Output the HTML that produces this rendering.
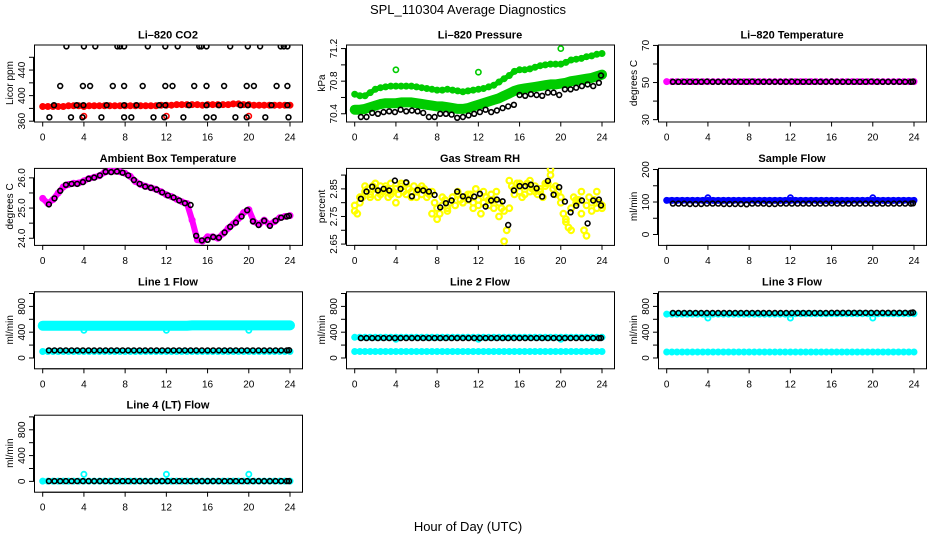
<!DOCTYPE html>
<html><head><meta charset="utf-8">
<style>
html,body{margin:0;padding:0;background:#fff;}
svg{display:block;font-family:"Liberation Sans",Arial,sans-serif;}
</style></head>
<body>
<svg id="chart" width="936" height="540" viewBox="0 0 936 540" xmlns="http://www.w3.org/2000/svg">
<rect x="0" y="0" width="936" height="540" fill="#fff"/>
<text x="468" y="14" text-anchor="middle" font-size="13">SPL_110304  Average Diagnostics</text>
<text x="468" y="531" text-anchor="middle" font-size="13">Hour of Day (UTC)</text>
</svg>
<script>
// ---------- data ----------
const xTicks = [0,4,8,12,16,20,24];
const hrsB = [0.6,1.15,1.7,2.25,2.8,3.35,3.9,4.45,5.0,5.55,6.1,6.65,7.2,7.75,8.3,8.85,9.4,9.95,10.5,11.05,11.6,12.15,12.7,13.25,13.8,14.35,14.9,15.45,16.0,16.55,17.1,17.65,18.2,18.75,19.3,19.85,20.4,20.95,21.5,22.05,22.6,23.15,23.7,23.9];
const hrsC = [0,0.5,1,1.5,2,2.5,3,3.5,4,4.5,5,5.5,6,6.5,7,7.5,8,8.5,9,9.5,10,10.5,11,11.5,12,12.5,13,13.5,14,14.5,15,15.5,16,16.5,17,17.5,18,18.5,19,19.5,20,20.5,21,21.5,22,22.5,23,23.5,24];
const hrsQ = [0,0.25,0.5,0.75,1,1.25,1.5,1.75,2,2.25,2.5,2.75,3,3.25,3.5,3.75,4,4.25,4.5,4.75,5,5.25,5.5,5.75,6,6.25,6.5,6.75,7,7.25,7.5,7.75,8,8.25,8.5,8.75,9,9.25,9.5,9.75,10,10.25,10.5,10.75,11,11.25,11.5,11.75,12,12.25,12.5,12.75,13,13.25,13.5,13.75,14,14.25,14.5,14.75,15,15.25,15.5,15.75,16,16.25,16.5,16.75,17,17.25,17.5,17.75,18,18.25,18.5,18.75,19,19.25,19.5,19.75,20,20.25,20.5,20.75,21,21.25,21.5,21.75,22,22.25,22.5,22.75,23,23.25,23.5,23.75,24];
const spikeHrs = [4,12,20];

// CO2
const co2BlackHrs = [2.3,4.0,5.1,7.25,7.5,7.9,10.2,11.9,13.1,15.2,15.4,15.9,18.2,19.9,21.1,23.1,23.4,23.75, 1.7,3.9,4.6,6.8,7.9,9.7,11.9,12.6,14.7,15.9,17.6,19.8,20.5,22.7,23.75, 1.1,3.3,3.95,6.2,7.9,9.1,11.3,11.9,14.2,15.9,17.1,19.2,19.9,22.2,23.75, 0.65,2.75,3.85,5.7,7.9,8.6,10.75,11.8,13.65,15.9,16.6,18.7,19.8,21.6,23.85];
const co2BlackVals = [477,477,477,477,477,477,477,477,477,477,477,477,477,477,477,477,477,477, 415,415,415,415,415,415,415,415,415,415,415,415,415,415,415, 385,385,385,385,385,385,385,385,385,385,385,385,385,385,385, 366,366,366,366,366,366,366,366,366,366,366,366,366,366,366];
const co2Red = [383,383,383,383,383,384,384,384,383,384,384,384,384,384,384,384,384,384,384,384,384,384,384,385,385,385,386,386,386,386,386,385,386,386,386,386,386,387,387,386,386,385,385,385,385,385,385,385,385];
const co2RedSpikes = [368,368,368];

// Pressure
const presUpper = [70.64,70.62,70.62,70.66,70.70,70.72,70.73,70.74,70.74,70.74,70.74,70.74,70.73,70.72,70.71,70.70,70.69,70.69,70.70,70.69,70.68,70.67,70.68,70.69,70.70,70.71,70.73,70.75,70.79,70.83,70.87,70.92,70.94,70.94,70.95,70.97,70.99,71.00,71.01,71.01,71.01,71.03,71.06,71.07,71.08,71.10,71.11,71.13,71.14];
const presLower = [70.45,70.45,70.46,70.48,70.50,70.52,70.53,70.53,70.53,70.54,70.54,70.54,70.53,70.52,70.51,70.50,70.49,70.49,70.48,70.47,70.46,70.46,70.47,70.49,70.51,70.53,70.55,70.57,70.59,70.62,70.65,70.68,70.70,70.71,70.72,70.73,70.74,70.75,70.76,70.76,70.77,70.78,70.80,70.81,70.82,70.83,70.84,70.86,70.88];
const presGreenSpikes = [70.94,70.91,71.20];
const presBlack = [70.36,70.36,70.41,70.40,70.42,70.43,70.42,70.45,70.43,70.44,70.43,70.41,70.36,70.36,70.40,70.40,70.39,70.35,70.36,70.38,70.40,70.42,70.45,70.42,70.44,70.47,70.49,70.51,70.63,70.62,70.64,70.63,70.62,70.66,70.66,70.63,70.70,70.70,70.72,70.74,70.76,70.74,70.78,70.87];

// Li-820 temperature
const liTempMag = [50.5,50.5,50.5,50.5,50.5,50.5,50.5,50.5,50.5,50.5,50.5,50.5,50.5,50.5,50.5,50.5,50.5,50.5,50.5,50.5,50.5,50.5,50.5,50.5,50.5,50.5,50.5,50.5,50.5,50.5,50.5,50.5,50.5,50.5,50.5,50.5,50.5,50.5,50.5,50.5,50.5,50.5,50.5,50.5,50.5,50.5,50.5,50.5,50.5];
const liTempBlack = [50.4,50.4,50.4,50.4,50.4,50.4,50.5,50.4,50.4,50.4,50.4,50.4,50.4,50.4,50.5,50.4,50.4,50.4,50.4,50.4,50.4,50.5,50.4,50.4,50.4,50.4,50.4,50.4,50.5,50.4,50.4,50.4,50.4,50.4,50.4,50.5,50.4,50.4,50.4,50.4,50.4,50.4,50.4,50.5];

// Ambient box temperature
const ambMag = [25.32,25.15,25.28,25.50,25.70,25.78,25.82,25.83,25.90,25.98,26.02,26.07,26.18,26.22,26.22,26.20,26.15,26.05,25.88,25.78,25.72,25.67,25.62,25.54,25.44,25.38,25.29,25.21,25.15,24.60,23.95,23.90,24.05,24.05,24.00,24.15,24.33,24.48,24.65,24.85,24.95,24.55,24.46,24.60,24.45,24.55,24.68,24.72,24.75];
const ambBlack = [25.12,25.32,25.57,25.77,25.80,25.80,25.86,25.97,26.01,26.08,26.20,26.19,26.21,26.17,26.08,25.93,25.80,25.71,25.67,25.61,25.52,25.42,25.35,25.25,25.16,25.10,24.08,23.93,23.95,24.04,24.02,24.19,24.38,24.52,24.72,24.93,24.56,24.44,24.58,24.41,24.58,24.68,24.72,24.74];

// Gas stream RH
const rhYellowA = [2.79,2.76,2.80,2.82,2.84,2.85,2.83,2.86,2.85,2.82,2.86,2.84,2.85,2.82,2.87,2.84,2.85,2.83,2.86,2.84,2.87,2.85,2.82,2.86,2.84,2.85,2.83,2.85,2.84,2.83,2.84,2.80,2.78,2.76,2.79,2.81,2.77,2.80,2.82,2.79,2.83,2.81,2.80,2.82,2.81,2.83,2.80,2.85,2.81,2.76,2.80,2.82,2.79,2.83,2.81,2.84,2.80,2.78,2.77,2.70,2.78,2.86,2.85,2.87,2.84,2.82,2.86,2.87,2.84,2.85,2.86,2.83,2.85,2.82,2.86,2.87,2.90,2.85,2.86,2.84,2.80,2.76,2.74,2.71,2.78,2.82,2.80,2.81,2.76,2.70,2.79,2.82,2.80,2.81,2.78,2.80,2.79];
const rhYellowB = [2.77,2.82,2.86,2.82,2.87,2.83,2.86,2.83,2.80,2.87,2.83,2.84,2.82,2.86,2.82,2.76,2.74,2.82,2.78,2.82,2.84,2.80,2.83,2.78,2.79,2.84,2.81,2.78,2.75,2.66,2.88,2.83,2.87,2.83,2.88,2.84,2.84,2.87,2.92,2.83,2.82,2.73,2.70,2.81,2.84,2.68,2.77,2.84,2.78];
const rhBlack = [2.814,2.84,2.858,2.844,2.85,2.844,2.88,2.85,2.874,2.823,2.846,2.844,2.84,2.828,2.783,2.798,2.808,2.84,2.823,2.811,2.822,2.832,2.786,2.808,2.811,2.805,2.719,2.844,2.86,2.86,2.865,2.852,2.822,2.879,2.829,2.856,2.804,2.765,2.789,2.808,2.725,2.808,2.811,2.79];

// Sample flow
const sampBlue = [105,105,105,105,105,105,105,105,105,105,105,105,105,105,105,105,105,105,105,105,105,105,105,105,105,105,105,105,105,105,105,105,105,105,105,105,105,105,105,105,105,105,105,105,105,105,105,105,105];
const sampBlueSpikes = [113,113,113];
const sampBlack = [95,95,95,94,94,94,95,95,95,94,94,94,94,93,95,95,95,94,94,95,95,95,95,95,95,95,95,95,96,95,95,95,95,95,95,95,95,95,95,95,95,95,95,96];

// Line flows
const l1CyanUp = [500,500,500,500,500,500,500,500,500,500,500,500,500,500,500,500,500,500,500,500,500,500,500,500,500,500,500,500,500,505,505,505,505,505,505,505,505,505,505,505,505,505,505,505,505,505,505,505,505];
const l1CyanLow = [100,100,100,100,100,100,100,100,100,100,100,100,100,100,100,100,100,100,100,100,100,100,100,100,100,100,100,100,100,100,100,100,100,100,100,100,100,100,100,100,100,100,100,100,100,100,100,100,100];
const l1CyanSpikes = [430,430,430];
const l1Black = [118,118,118,118,118,118,118,118,118,118,118,118,118,118,118,118,118,118,118,118,118,118,118,118,118,118,118,118,118,118,118,118,118,118,118,118,118,118,118,118,118,118,118,120];

const l2CyanUp = [320,320,320,320,320,320,320,320,320,320,320,320,320,320,320,320,320,320,320,320,320,320,320,320,320,320,320,320,320,320,320,320,320,320,320,320,320,320,320,320,320,320,320,320,320,320,320,320,320];
const l2CyanLow = [100,100,100,100,100,100,100,100,100,100,100,100,100,100,100,100,100,100,100,100,100,100,100,100,100,100,100,100,100,100,100,100,100,100,100,100,100,100,100,100,100,100,100,100,100,100,100,100,100];
const l2CyanSpikes = [290,290,290];
const l2Black = [308,308,308,308,308,308,308,308,308,308,308,308,308,308,308,308,308,308,308,308,308,308,308,308,308,308,308,308,308,308,308,308,308,308,308,308,308,308,308,308,308,308,308,310];

const l3CyanUp = [680,680,680,680,680,680,680,680,680,680,680,680,680,680,680,680,680,680,680,680,680,680,680,680,680,685,685,685,685,685,685,685,685,685,685,685,685,685,685,685,685,685,685,685,685,685,685,685,685];
const l3CyanLow = [92,92,92,92,92,92,92,92,92,92,92,92,92,92,92,92,92,92,92,92,92,92,92,92,92,92,92,92,92,92,92,92,92,92,92,92,92,92,92,92,92,92,92,92,92,92,92,92,92];
const l3CyanSpikes = [620,620,620];
const l3Black = [698,698,698,698,698,698,698,698,698,698,698,698,698,698,698,698,698,698,698,698,698,698,698,698,698,698,698,698,700,700,700,700,700,700,700,700,700,700,700,700,700,700,700,705];

const l4Cyan = [5,5,5,5,5,5,5,5,5,5,5,5,5,5,5,5,5,5,5,5,5,5,5,5,5,5,5,5,5,5,5,5,5,5,5,5,5,5,5,5,5,5,5,5,5,5,5,5,5];
const l4CyanSpikes = [110,110,110];
const l4Black = [5,5,5,5,5,5,5,5,5,5,5,5,5,5,5,5,5,5,5,5,5,5,5,5,5,5,5,5,5,5,5,5,5,5,5,5,5,5,5,5,5,5,5,5];

// ---------- drawing ----------
const svg = document.getElementById('chart');
const NS = 'http://www.w3.org/2000/svg';
function mk(tag, attrs, parent){
  const el = document.createElementNS(NS, tag);
  for (const k in attrs) el.setAttribute(k, attrs[k]);
  (parent||svg).appendChild(el);
  return el;
}
function panel(cfg){
  const g = mk('g', {});
  
  
  const L = 34 + 312*cfg.col, T = 44.5 + 123.4*cfg.row, W = 268, H = 77;
  const xs = h => (42.7 + 312*cfg.col) + h/24*(290-42.7);
  const ys = v => (T+H) - (v - cfg.vb)/(cfg.vt - cfg.vb)*H;
  cfg.xs = xs; cfg.ys = ys; cfg.g = g;
  const t = mk('text', {x: L+W/2, y: T-6, 'text-anchor':'middle', 'font-size':11, 'font-weight':'bold'}, g);
  t.textContent = cfg.title;
  
  
  // x axis
  const xa = mk('g', {stroke:'#000','stroke-width':1}, g);
  
  
  mk('line', {x1: xs(xTicks[0]), x2: xs(xTicks[xTicks.length-1]), y1: T+H+0.5, y2: T+H+0.5}, xa);
  xTicks.forEach(v => {
    mk('line', {x1: xs(v), x2: xs(v), y1: T+H, y2: T+H+5}, xa);
    const tl = mk('text', {x: xs(v), y: T+H+19, 'text-anchor':'middle','font-size':10, stroke:'none'}, xa);
    tl.textContent = v;
    
    
  });
  // y axis
  const ya = mk('g', {stroke:'#000','stroke-width':1}, g);
  
  
  mk('line', {x1: L-0.5, x2: L-0.5, y1: ys(cfg.yt[0]), y2: ys(cfg.yt[cfg.yt.length-1])}, ya);
  cfg.yt.forEach(v => mk('line', {x1: L-5, x2: L, y1: ys(v), y2: ys(v)}, ya));
  cfg.yl.forEach((lab, i) => {
    const v = cfg.ylv[i];
    const tl = mk('text', {x: 0, y: 0, 'text-anchor':'middle','font-size':10, stroke:'none',
      transform:`translate(${L-9},${ys(v)}) rotate(-90)`}, ya);
    tl.textContent = lab;
    
    
  });
  const yt = mk('text', {x:0, y:0, 'text-anchor':'middle','font-size':10,
    transform:`translate(${L-21},${T+H/2}) rotate(-90)`}, g);
  yt.textContent = cfg.ylab;
  
  
  // box
  const box = mk('rect', {x: L+0.5, y: T+0.5, width: W, height: H, fill:'none', stroke:'#000', 'stroke-width':1}, g);
  
  
  const clip = mk('clipPath', {id: 'clip'+cfg.name}, g);
  mk('rect', {x: L, y: T, width: W+1, height: H+1}, clip);
  cfg.plot = mk('g', {'clip-path': `url(#clip${cfg.name})`}, g);
  return cfg;
}
function band(p, hrs, vals, color, width, name){
  const pts = hrs.map((h,i) => p.xs(h).toFixed(1)+','+p.ys(vals[i]).toFixed(1)).join(' ');
  const pl = mk('polyline', {points: pts, fill:'none', stroke: color, 'stroke-width': width, 'stroke-linejoin':'round','stroke-linecap':'round'}, p.plot);
  
  
  pts0(p, hrs, vals, color, 2.6, 1.8, name);
}
function pts0(p, hrs, vals, color, r, sw, name){
  const gg = mk('g', {fill:'none', stroke: color, 'stroke-width': sw}, p.plot);
  
  
  hrs.forEach((h,i) => {
    const c = mk('circle', {cx: p.xs(h).toFixed(1), cy: p.ys(vals[i]).toFixed(1), r: r}, gg);
    
    
  });
}
const BLK = (p, vals, name) => pts0(p, hrsB, vals, '#000', 2.4, 1.6, name);
const CY = '#00ffff';

// Row 1
let p = panel({name:'li820-co2-panel', title:'Li\u2013820 CO2', ylab:'Licor ppm', col:0, row:0, vb:359.5, vt:480,
  yt:[360,380,400,420,440,460], yl:['360','400','440'], ylv:[360,400,440]});
band(p, hrsC, co2Red, '#ff0000', 5, 'co2-red-series');
pts0(p, spikeHrs, co2RedSpikes, '#ff0000', 2.6, 1.6, 'co2-red-outliers');
pts0(p, co2BlackHrs, co2BlackVals, '#000', 2.4, 1.6, 'co2-black-series');

p = panel({name:'li820-pressure-panel', title:'Li\u2013820 Pressure', ylab:'kPa', col:1, row:0, vb:70.305, vt:71.25,
  yt:[70.4,70.6,70.8,71.0,71.2], yl:['70.4','70.8','71.2'], ylv:[70.4,70.8,71.2]});
band(p, hrsC, presUpper, '#00cc00', 5, 'pressure-green-upper');
band(p, hrsC, presLower, '#00cc00', 10, 'pressure-green-lower');
pts0(p, spikeHrs, presGreenSpikes, '#00cc00', 2.6, 1.6, 'pressure-green-outliers');
BLK(p, presBlack, 'pressure-black-series');

p = panel({name:'li820-temperature-panel', title:'Li\u2013820 Temperature', ylab:'degrees C', col:2, row:0, vb:29, vt:70.5,
  yt:[30,40,50,60,70], yl:['30','50','70'], ylv:[30,50,70]});
band(p, hrsC, liTempMag, '#ff00ff', 4, 'litemp-magenta-series');
BLK(p, liTempBlack, 'litemp-black-series');

// Row 2
p = panel({name:'ambient-box-temperature-panel', title:'Ambient Box Temperature', ylab:'degrees C', col:0, row:1, vb:23.78, vt:26.33,
  yt:[24.0,24.5,25.0,25.5,26.0], yl:['24.0','25.0','26.0'], ylv:[24.0,25.0,26.0]});
band(p, hrsC, ambMag, '#ff00ff', 6, 'ambient-magenta-series');
BLK(p, ambBlack, 'ambient-black-series');

p = panel({name:'gas-stream-rh-panel', title:'Gas Stream RH', ylab:'percent', col:1, row:1, vb:2.647, vt:2.926,
  yt:[2.65,2.70,2.75,2.80,2.85,2.90], yl:['2.65','2.75','2.85'], ylv:[2.65,2.75,2.85]});
pts0(p, hrsQ, rhYellowA, '#ffff00', 2.8, 2.2, 'rh-yellow-series-a');
pts0(p, hrsC, rhYellowB, '#ffff00', 2.8, 2.2, 'rh-yellow-series-b');
BLK(p, rhBlack, 'rh-black-series');

p = panel({name:'sample-flow-panel', title:'Sample Flow', ylab:'ml/min', col:2, row:1, vb:-32, vt:205,
  yt:[0,50,100,150,200], yl:['0','100','200'], ylv:[0,100,200]});
band(p, hrsC, sampBlue, '#0000ff', 6, 'sample-blue-series');
pts0(p, spikeHrs, sampBlueSpikes, '#0000ff', 2.6, 1.8, 'sample-blue-outliers');
BLK(p, sampBlack, 'sample-black-series');

// Row 3
const flowY = {vb:-160, vt:1034, yt:[0,200,400,600,800,1000], yl:['0','400','800'], ylv:[0,400,800]};
p = panel(Object.assign({name:'line1-flow-panel', title:'Line 1 Flow', ylab:'ml/min', col:0, row:2}, flowY));
band(p, hrsC, l1CyanUp, CY, 10, 'line1-cyan-upper');
band(p, hrsC, l1CyanLow, CY, 4, 'line1-cyan-lower');
pts0(p, spikeHrs, l1CyanSpikes, CY, 2.6, 1.8, 'line1-cyan-outliers');
BLK(p, l1Black, 'line1-black-series');

p = panel(Object.assign({name:'line2-flow-panel', title:'Line 2 Flow', ylab:'ml/min', col:1, row:2}, flowY));
band(p, hrsC, l2CyanUp, CY, 5, 'line2-cyan-upper');
band(p, hrsC, l2CyanLow, CY, 5, 'line2-cyan-lower');
pts0(p, spikeHrs, l2CyanSpikes, CY, 2.6, 1.8, 'line2-cyan-outliers');
BLK(p, l2Black, 'line2-black-series');

p = panel(Object.assign({name:'line3-flow-panel', title:'Line 3 Flow', ylab:'ml/min', col:2, row:2}, flowY));
band(p, hrsC, l3CyanUp, CY, 5, 'line3-cyan-upper');
band(p, hrsC, l3CyanLow, CY, 4, 'line3-cyan-lower');
pts0(p, spikeHrs, l3CyanSpikes, CY, 2.6, 1.8, 'line3-cyan-outliers');
BLK(p, l3Black, 'line3-black-series');

// Row 4
p = panel(Object.assign({name:'line4-flow-panel', title:'Line 4 (LT) Flow', ylab:'ml/min', col:0, row:3}, flowY));
band(p, hrsC, l4Cyan, CY, 4, 'line4-cyan-series');
pts0(p, spikeHrs, l4CyanSpikes, CY, 2.6, 1.8, 'line4-cyan-outliers');
BLK(p, l4Black, 'line4-black-series');
</script>
</body></html>
